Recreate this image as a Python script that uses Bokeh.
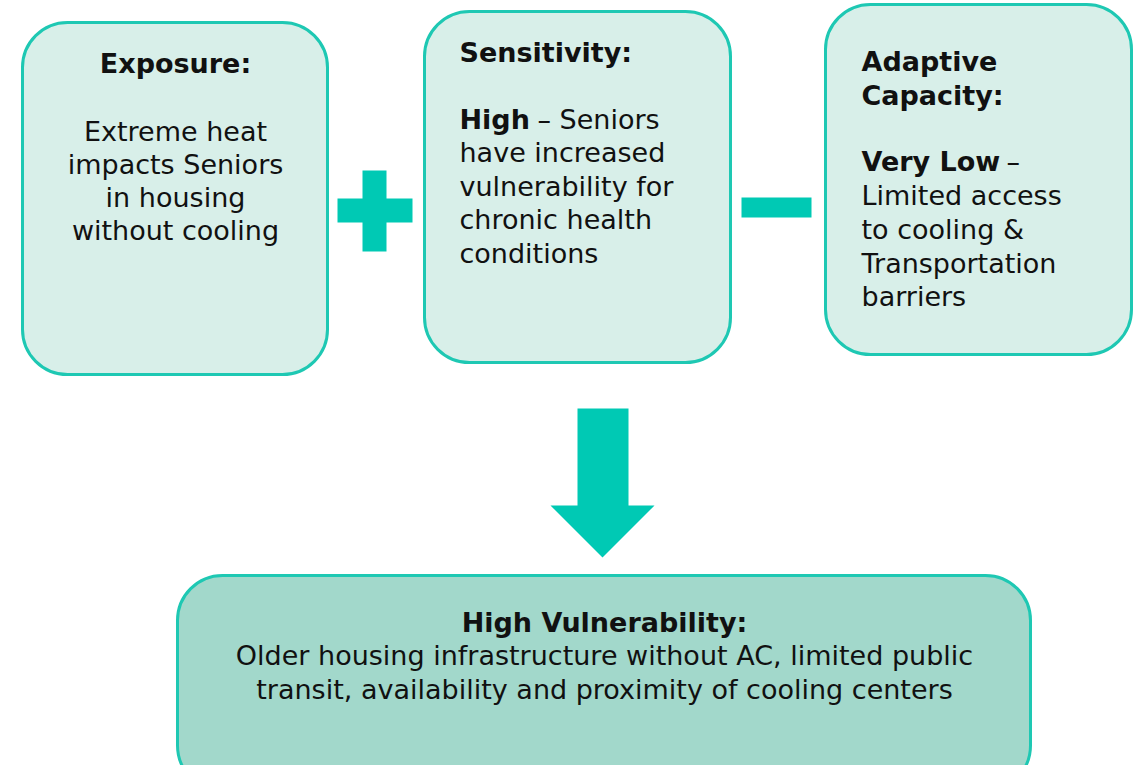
from bokeh.plotting import figure
from bokeh.models import Range1d
from bokeh.core.properties import value
from bokeh.embed import file_html
from bokeh.resources import INLINE

FONT = "DejaVu Sans"
FS = "27px"

# --- boxes (left, right, top, bottom) in page pixels
box_left = [22, 424, 825, 177]
box_right = [327, 730, 1131, 1030]
box_top = [22, 11, 4, 575]
box_bottom = [374, 362, 354, 790]
box_fill = ["#d8efe9", "#d8efe9", "#d8efe9", "#a2d8cb"]
border_col = "#1ec8b3"
accent = "#00c9b4"

# --- text segments
seg_text = [
    "Exposure:",
    "Extreme heat", "impacts Seniors", "in housing", "without cooling",
    "Sensitivity:",
    "High", "– Seniors", "have increased", "vulnerability for", "chronic health", "conditions",
    "Adaptive", "Capacity:",
    "Very Low", "–", "Limited access", "to cooling &", "Transportation", "barriers",
    "High Vulnerability:",
    "Older housing infrastructure without AC, limited public",
    "transit, availability and proximity of cooling centers",
]
seg_x = [
    175,
    175, 175, 175, 175,
    459,
    459, 537, 459, 459, 459, 459,
    861, 861,
    861, 1006, 861, 861, 861, 861,
    604,
    604,
    604,
]
seg_y = [
    63,
    131, 164, 197, 230,
    52,
    119, 119, 152, 186, 219, 253,
    61, 95,
    161, 161, 195, 229, 263, 296,
    622,
    655,
    689,
]
seg_bold = [
    True,
    False, False, False, False,
    True,
    True, False, False, False, False, False,
    True, True,
    True, False, False, False, False, False,
    True,
    False,
    False,
]
seg_align = [
    "center",
    "center", "center", "center", "center",
    "left",
    "left", "left", "left", "left", "left", "left",
    "left", "left",
    "left", "left", "left", "left", "left", "left",
    "center",
    "center",
    "center",
]

# --- operator symbols: plus, minus (left, right, top, bottom)
sym_left = [337, 362, 741]
sym_right = [412, 386, 811]
sym_top = [198, 170, 197]
sym_bottom = [222, 251, 217]

# --- down arrow polygon
arrow_x = [577, 628, 628, 654, 602, 550, 577]
arrow_y = [408, 408, 505, 505, 557, 505, 505]

p = figure(width=1140, height=765, output_backend="svg", toolbar_location=None,
           x_range=Range1d(0, 1140), y_range=Range1d(765, 0), min_border=0)
p.axis.visible = False
p.grid.visible = False
p.outline_line_color = None
p.background_fill_color = "white"
p.border_fill_color = "white"

p.quad(left=box_left, right=box_right, top=box_top, bottom=box_bottom,
       fill_color=box_fill, line_color=border_col, line_width=3, border_radius=45)

p.quad(left=sym_left, right=sym_right, top=sym_top, bottom=sym_bottom,
       fill_color=accent, line_color=None)

p.patch(arrow_x, arrow_y, fill_color=accent, line_color=None)

for t, x, y, b, a in zip(seg_text, seg_x, seg_y, seg_bold, seg_align):
    p.text(x=[x], y=[y], text=[t], text_font=value(FONT), text_font_size=FS,
           text_font_style="bold" if b else "normal", text_align=a,
           text_baseline="middle", text_color="#111111")

open("out.html", "w").write(file_html(p, INLINE))
